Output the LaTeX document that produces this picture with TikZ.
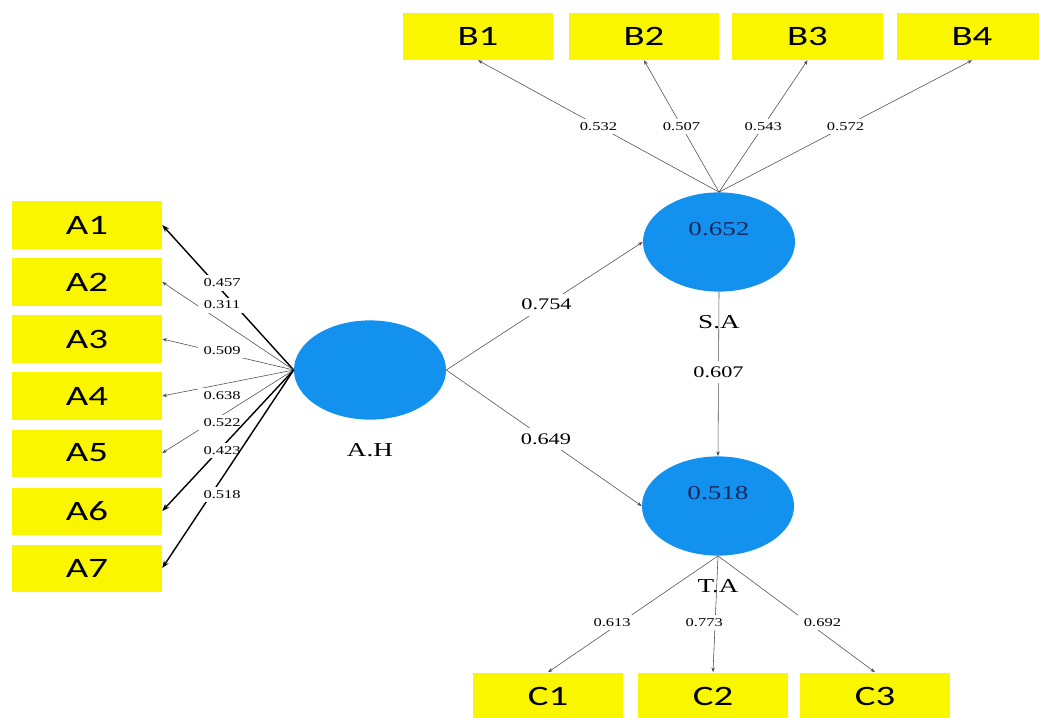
\documentclass[tikz,border=0pt]{standalone}
\usepackage{fontspec}
\usetikzlibrary{shapes.geometric,arrows.meta}

\newfontfamily\boxfont[FakeStretch=1.38]{Carlito}
\newfontfamily\numfont[FakeStretch=1.38]{Liberation Serif}

\definecolor{boxyellow}{RGB}{250,246,0}
\definecolor{latblue}{RGB}{18,145,238}
\definecolor{valblue}{RGB}{25,40,95}

\tikzset{
  item/.style={fill=boxyellow, minimum width=3.75cm, minimum height=1.175cm,
    inner sep=0pt, font=\boxfont\fontsize{20}{20}\selectfont},
  latent/.style={ellipse, fill=latblue, minimum width=3.8cm,
    minimum height=2.48cm, inner sep=0pt},
  rsq/.style={font=\numfont\fontsize{14}{14}\selectfont, text=valblue, yshift=9pt},
  lvname/.style={font=\numfont\fontsize{14}{14}\selectfont, label distance=13pt},
  load/.style={draw=black!70, line width=0.4pt, -{Stealth[scale=0.7]}},
  plain/.style={},
  heavy/.style={draw=black, line width=1pt},
  coef/.style={fill=white, inner xsep=4pt, inner ysep=2.5pt,
    font=\numfont\fontsize{8.5}{8.5}\selectfont},
  pcoef/.style={fill=white, inner xsep=6pt, inner ysep=4pt,
    font=\numfont\fontsize{11.5}{11.5}\selectfont}
}

\begin{document}
\begin{tikzpicture}[x=0.025cm, y=-0.025cm]
\useasboundingbox (0,0) rectangle (1039,717);

% latent variables
\node[latent, label={[lvname]below:A.H}] (AH) at (370,370) {};
\node[latent, label={[rsq]center:0.652}, label={[lvname]below:S.A}] (SA) at (719,242) {};
\node[latent, label={[rsq]center:0.518}, label={[lvname]below:T.A}] (TA) at (718,506) {};

% indicators
\foreach \n [count=\i] in {225,282,339,396,453,511,568}
  \node[item] (A\i) at (87,\n) {A\i};
\foreach \x [count=\i] in {478,644,807.5,972}
  \node[item] (B\i) at (\x,36.5) {B\i};
\foreach \x [count=\i] in {548,713,875}
  \node[item] (C\i) at (\x,696) {C\i};

% outer loadings
\foreach \i/\v/\s/\w in {1/0.457/8/heavy, 2/0.311/17/plain, 3/0.509/3/plain,
    4/0.638/-11/plain, 5/0.522/-7/plain, 6/0.423/-4/heavy, 7/0.518/-17/heavy}
  \draw[load,\w] (AH.west) -- node[coef, pos=.545, yshift=\s*0.709pt] (a\i) {\v} (A\i.east);

\foreach \i/\v in {1/0.532, 2/0.507, 3/0.543, 4/0.572}
  \draw[load] (SA.north) -- node[coef, pos=.5] (b\i) {\v} (B\i.south);

\foreach \i/\v/\s in {1/0.613/-9, 2/0.773/-11, 3/0.692/15}
  \draw[load] (TA.south) -- node[coef, pos=.57, xshift=\s*0.709pt] (c\i) {\v} (C\i.north);

% path coefficients
\draw[load] (AH.east) -- node[pcoef, pos=.51] (p1) {0.754} (SA.west);
\draw[load] (AH.east) -- node[pcoef, pos=.51] (p2) {0.649} (TA.west);
\draw[load] (SA.south) -- node[pcoef, pos=.49] (p3) {0.607} (TA.north);
\end{tikzpicture}
\end{document}
